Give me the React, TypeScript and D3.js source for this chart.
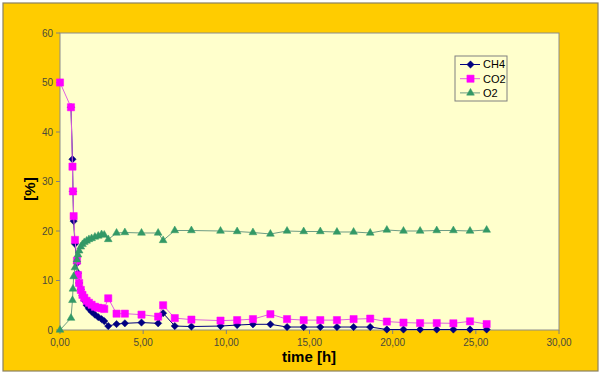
import React from "react";
import * as d3 from "d3";

// sampling times [h], shared by all three gases
const times = [
  0, 0.66, 0.75, 0.78, 0.82, 0.9, 1.02, 1.08, 1.15, 1.25, 1.35, 1.46, 1.6, 1.74, 1.9, 2.1, 2.3, 2.5, 2.66, 2.9,
  3.4, 3.9, 4.9, 5.9, 6.2, 6.9, 7.9, 9.65, 10.65, 11.6, 12.65, 13.65, 14.65, 15.65, 16.65, 17.65, 18.65,
  19.65, 20.65, 21.65, 22.65, 23.65, 24.65, 25.65,
];

const ch4 = [
  null, 45, 34.5, 28, 22, 17.4, 13.5, 11.5, 9.5, 8.2, 7.0, 6.0, 5.0, 4.3, 3.7, 3.1, 2.6, 2.2, 1.8, 0.8,
  1.2, 1.35, 1.5, 1.35, 3.4, 0.8, 0.7, 0.8, 1.0, 1.15, 1.15, 0.6, 0.6, 0.6, 0.6, 0.6, 0.6,
  0.1, 0.1, 0.1, 0.1, 0.1, 0.1, 0.1,
];

const co2 = [
  50, 45, 33, 28, 23, 18.2, 14, 11.1, 9.5, 8.1, 7.1, 6.5, 5.9, 5.5, 5.1, 4.7, 4.5, 4.4, 4.25, 6.4,
  3.3, 3.3, 3.1, 2.7, 5.0, 2.4, 2.1, 1.9, 2.0, 2.2, 3.2, 2.2, 2.0, 2.0, 2.0, 2.2, 2.3,
  1.7, 1.5, 1.4, 1.4, 1.35, 1.75, 1.2,
];

const o2 = [
  0, 2.4, 6, 8.3, 10.8, 12.6, 14.2, 15.2, 16.0, 16.8, 17.3, 17.7, 18.0, 18.3, 18.5, 18.8, 19.0, 19.3, 19.2, 18.3,
  19.6, 19.7, 19.6, 19.6, 18.1, 20.1, 20.1, 20.0, 19.9, 19.7, 19.4, 20.0, 19.9, 19.9, 19.8, 19.8, 19.6,
  20.2, 20.0, 20.0, 20.1, 20.1, 20.0, 20.2,
];

const xTicks = [0, 5, 10, 15, 20, 25, 30];
const yTicks = [0, 10, 20, 30, 40, 50, 60];

const seriesNames = ["CH4", "CO2", "O2"];

const W = 600;
const H = 374;
const plot = { left: 60, right: 559, top: 33, bottom: 330 };

const font = "Arial, 'Liberation Sans', sans-serif";

export default function App() {
  const x = d3.scaleLinear().domain([0, 30]).range([plot.left, plot.right]);
  const y = d3.scaleLinear().domain([0, 60]).range([plot.bottom, plot.top]);
  const fmt = (v: number) => d3.format(".2f")(v).replace(".", ",");

  const series = [
    { name: seriesNames[0], values: ch4, color: "#000080", line: "#000080", sym: d3.symbol(d3.symbolDiamond2, 34) },
    { name: seriesNames[1], values: co2, color: "#FF00FF", line: "#E060E0", sym: d3.symbol(d3.symbolSquare, 52) },
    { name: seriesNames[2], values: o2, color: "#339966", line: "#6E9C84", sym: d3.symbol(d3.symbolTriangle, 26) },
  ];

  const line = d3
    .line<[number, number | null]>()
    .defined((d) => d[1] != null)
    .x((d) => x(d[0]))
    .y((d) => y(d[1] as number));

  return (
    <svg
      width={W}
      height={H}
      style={{ position: "fixed", left: 0, top: 0, background: "#ffffff" }}
      fontFamily={font}
    >
      {/* chart area */}
      <rect x={3} y={3} width={595} height={368} fill="#FFCC00" stroke="#8a8060" strokeWidth={1.2} />

      {/* plot area */}
      <rect
        x={plot.left}
        y={plot.top}
        width={plot.right - plot.left}
        height={plot.bottom - plot.top}
        fill="#FFFFCC"
        stroke="#8c8c8c"
        strokeWidth={1}
      />

      {/* y axis */}
      {yTicks.map((t) => (
        <g key={"y" + t}>
          <line x1={plot.left - 4} x2={plot.left} y1={y(t)} y2={y(t)} stroke="#808080" />
          <text x={plot.left - 7} y={y(t)} dy="0.35em" textAnchor="end" fontSize={10} fill="#4a4a3a">
            {t}
          </text>
        </g>
      ))}

      {/* x axis */}
      {xTicks.map((t) => (
        <g key={"x" + t}>
          <line x1={x(t)} x2={x(t)} y1={plot.bottom} y2={plot.bottom + 4} stroke="#808080" />
          <text x={x(t)} y={plot.bottom + 16} textAnchor="middle" fontSize={10} fill="#4a4a3a">
            {fmt(t)}
          </text>
        </g>
      ))}

      {/* series */}
      {series.map((s) => {
        const pts = times.map((t, i) => [t, s.values[i]] as [number, number | null]);
        return (
          <g key={s.name}>
            <path d={line(pts) || ""} fill="none" stroke={s.line} strokeWidth={1} />
            {pts
              .filter((p) => p[1] != null)
              .map((p, i) => (
                <path
                  key={i}
                  d={s.sym() || ""}
                  transform={`translate(${x(p[0])},${y(p[1] as number)})`}
                  fill={s.color}
                  stroke={s.color}
                  strokeWidth={0.5}
                />
              ))}
          </g>
        );
      })}

      {/* axis titles */}
      <text x={309} y={362} textAnchor="middle" fontSize={15} fontWeight="bold" fill="#000">
        time [h]
      </text>
      <text
        transform={`translate(35,189) rotate(-90)`}
        textAnchor="middle"
        fontSize={15}
        fontWeight="bold"
        fill="#000"
      >
        [%]
      </text>

      {/* legend */}
      <g>
        <rect x={455} y={56} width={52} height={45} fill="#FFFFCC" stroke="#808080" strokeWidth={1} />
        {series.map((s, i) => {
          const ly = 64.5 + i * 14.2;
          return (
            <g key={"lg" + s.name}>
              <line x1={460} x2={480} y1={ly} y2={ly} stroke={s.line} strokeWidth={1} />
              <path d={s.sym() || ""} transform={`translate(470.5,${ly})`} fill={s.color} stroke={s.color} strokeWidth={0.5} />
              <text x={483} y={ly} dy="0.35em" fontSize={11} fill="#000">
                {s.name}
              </text>
            </g>
          );
        })}
      </g>
    </svg>
  );
}
